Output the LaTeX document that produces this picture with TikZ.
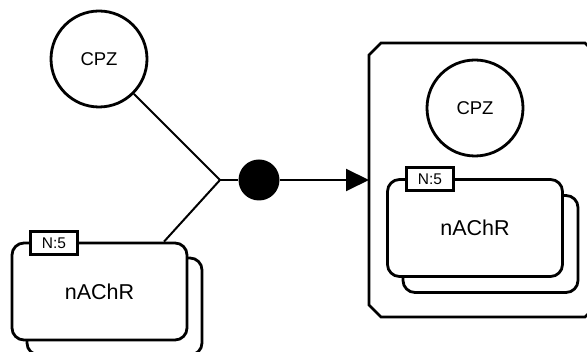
\documentclass[tikz,border=0pt]{standalone}
\usepackage{fontspec}
\setmainfont{Liberation Sans}
\usetikzlibrary{arrows.meta,calc}
\begin{document}
\begin{tikzpicture}[x=1pt,y=-1pt,
  shp/.style={draw=black,line width=2.8pt},
  macro/.style={shp,fill=white,rounded corners=12pt,minimum width=175pt,minimum height=97pt,inner sep=0pt},
  simple/.style={shp,fill=white,circle,minimum size=96pt,inner sep=0pt,font=\fontsize{18.5}{20}\selectfont},
  uoi/.style={shp,fill=white,minimum width=47pt,minimum height=23pt,inner sep=0pt,line width=2.6pt,font=\fontsize{15.5}{17}\selectfont},
  conn/.style={line width=2pt},
  bigfont/.style={font=\fontsize{21.5}{24}\selectfont}]
\useasboundingbox (0,0) rectangle (587,352);
\clip (0,0) rectangle (587,352);
% compartment
\draw[shp] (381,43) -- (585,43) -- (597,55) -- (597,305) -- (585,317) -- (381,317) -- (369,305) -- (369,55) -- cycle;
\coordinate (compW) at (369,180);
% left CPZ
\node[simple] (cpz1) at (99,59) {CPZ};
% left nAChR
\node[macro] (nb1) at (114.5,306.5) {};
\node[macro,bigfont] (nf1) at (99.5,291.5) {nAChR};
\node[uoi] (u1) at (54,243) {N:5};
% inner CPZ
\node[simple] (cpz2) at (475,108) {CPZ};
% inner nAChR
\node[macro] (nb2) at (490.5,244) {};
\node[macro,bigfont] (nf2) at (475,228) {nAChR};
\node[uoi] (u2) at (430,179) {N:5};
% process
\coordinate (junc) at (220,180);
\node[circle,fill=black,minimum size=41pt,inner sep=0pt] (dot) at (259,180) {};
\coordinate (nfTop) at ($(nf1.north west)!0.863!(nf1.north east)$);
\draw[conn] (cpz1) -- (junc);
\draw[conn] (nfTop) -- (junc);
\draw[conn] (junc) -- (dot);
\draw[conn,-{Triangle[length=23pt,width=22pt]}] (dot) -- (compW);
\end{tikzpicture}
\end{document}
